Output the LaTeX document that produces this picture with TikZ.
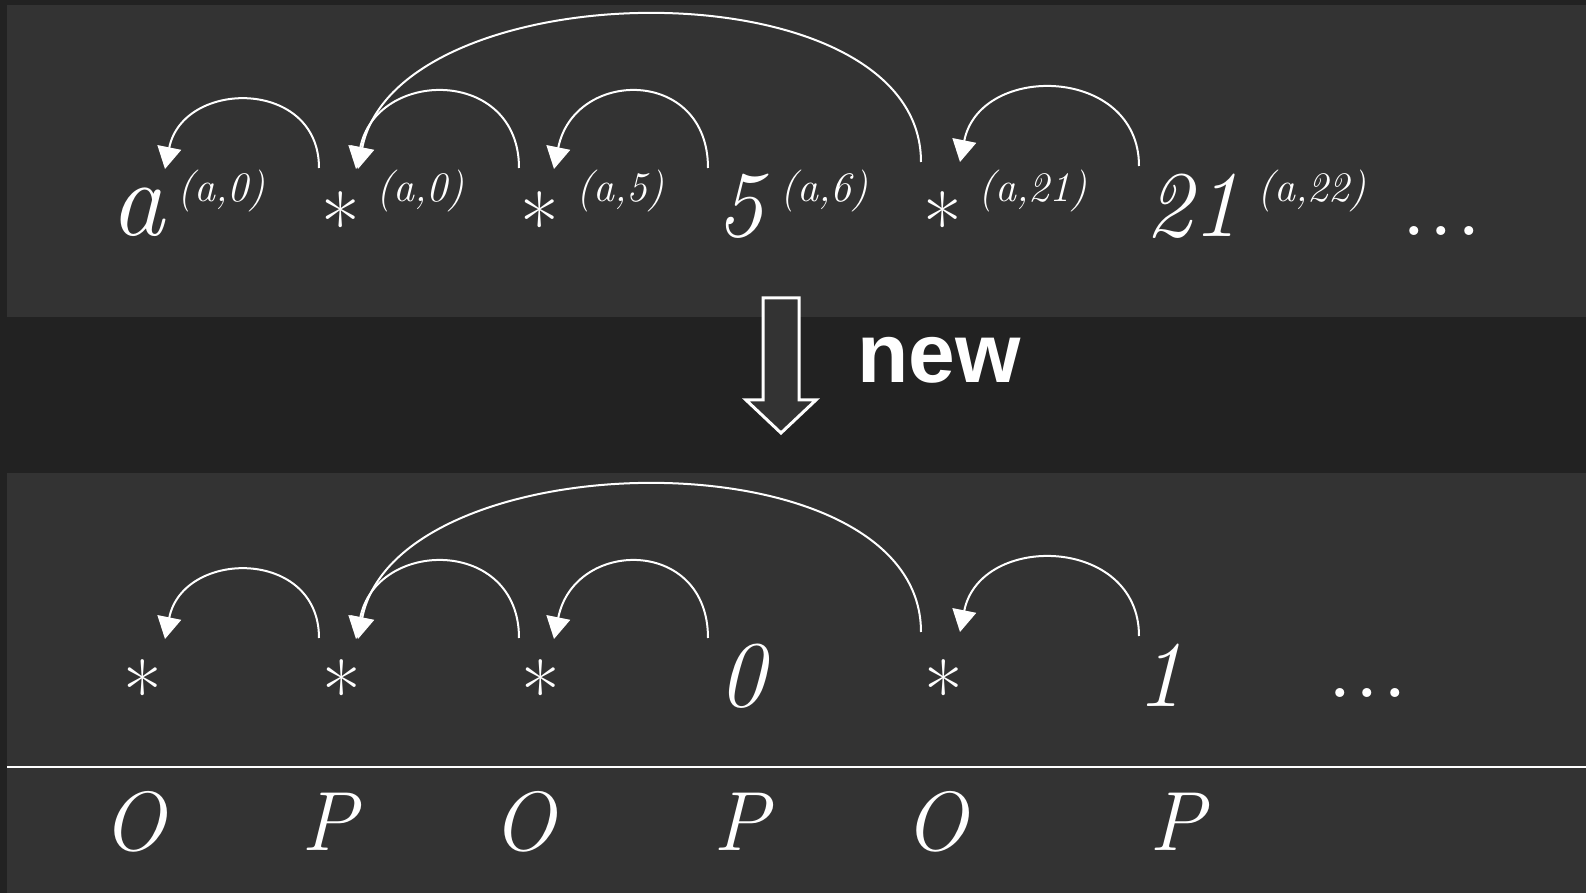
\documentclass[tikz,border=0pt]{standalone}
\usepackage{fontspec}
\setsansfont{Liberation Sans}
\usetikzlibrary{arrows.meta,calc}
\definecolor{panel}{HTML}{333333}
\definecolor{backdrop}{HTML}{222222}

\begin{document}
\begin{tikzpicture}[x=0.5pt, y=-0.5pt, >={Triangle[length=11pt,width=12pt]},
    sym/.style={text=white, inner sep=0pt, font=\fontsize{47}{47}\selectfont\itshape, anchor=base},
    star/.style={text=white, inner sep=0pt, font=\fontsize{42}{42}\selectfont, anchor=north},
    tag/.style={text=white, inner sep=0pt, font=\fontsize{21}{21}\selectfont\itshape, anchor=west},
    more/.style={text=white, inner sep=0pt, font=\fontsize{55}{55}\selectfont, anchor=base west},
    turn/.style={text=white, inner sep=0pt, font=\fontsize{42}{42}\selectfont\itshape, anchor=base},
    link/.style={->, draw=white, line width=1pt}]
  \useasboundingbox (0,0) rectangle (1586,893);
  \fill[backdrop] (0,0) rectangle (1586,893);
  \fill[panel] (7,5) rectangle (1586,317);
  \fill[panel] (7,473) rectangle (1586,893);

  % old sequence, every entry tagged
  \node[sym, font=\fontsize{54}{54}\selectfont\itshape] (a) at (137,236) {a};
  \foreach \x/\n in {341/s1, 540/s2, 943/s3}
    \node[star] (\n) at (\x,191) {*};
  \node[sym] (five) at (740,237) {5};
  \node[sym] (twentyone) at (1192,237) {21};
  \foreach \x/\t [count=\i] in {177/{(a,0)}, 376/{(a,0)}, 576/{(a,5)}, 780/{(a,6)}, 978/{(a,21)}, 1257/{(a,22)}}
    \node[tag] (tag\i) at (\x,191) {\t};
  \node[more] (olddots) at (1400,236) {...};

  % the step down
  \draw[white, line width=1.5pt, fill=panel] (763,298) -- (799,298) -- (799,400) -- (816,400)
    -- (781,433) -- (746,400) -- (763,400) -- cycle;
  \node[anchor=base west, text=white, inner sep=0pt,
        font=\sffamily\bfseries\fontsize{42}{42}\selectfont] (new) at (857,383) {new};

  % new sequence
  \foreach \x/\n in {143/t1, 342/t2, 541/t3, 944/t5}
    \node[star] (\n) at (\x,659) {*};
  \node[sym] (zero) at (742,706) {0};
  \node[sym] (one) at (1160,706) {1};
  \node[more] (newdots) at (1326,697) {...};

  % back pointers, same in both rows
  \foreach \y in {0,470}
    \foreach \f/\sy/\t/\ty/\h in {319/168/165/169/90, 519/168/356/169/101, 708/168/554/169/101,
                                  921/162/358/169/200, 1139/166/960/162/100} {
      \coordinate (from) at (\f,\sy+\y);
      \coordinate (to) at (\t,\ty+\y);
      \draw[link] (from) .. controls ($(from)+(0,-\h)$) and ($(to)+(0.2*\h,-\h)$) .. (to);
    }

  % players
  \draw[white, line width=1pt] (7,767) -- (1586,767);
  \foreach \x/\l [count=\i] in {134/O, 329/P, 524/O, 741/P, 936/O, 1177/P}
    \node[turn] (who\i) at (\x,850) {\l};
\end{tikzpicture}
\end{document}
